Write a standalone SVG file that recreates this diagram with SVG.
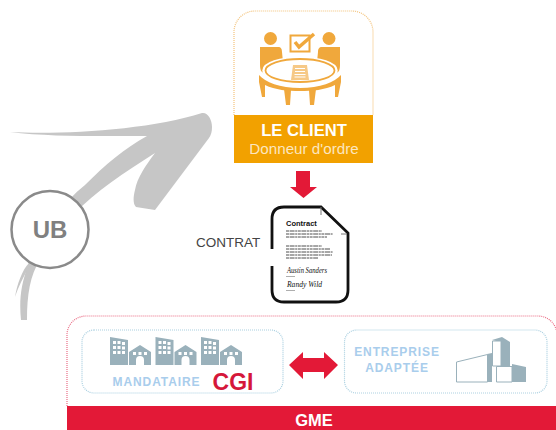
<svg xmlns="http://www.w3.org/2000/svg" width="556" height="430" viewBox="0 0 556 430">
<style>
text{font-family:"Liberation Sans",Arial,sans-serif}
.org{fill:#f0a83c}
.bld{fill:#9ab1bb}
.lbl{font-weight:700;font-size:12px;letter-spacing:.9px;fill:#a9cdec;text-anchor:middle}
.sub{fill:none;stroke:#a9cfe0;stroke-width:1.200;stroke-dasharray:1 1}
.ln{stroke:#222;stroke-width:.8;stroke-dasharray:3 .6 5 .6 2 .6}
.sig{font-family:"Liberation Serif",serif;font-style:italic;font-size:8px;fill:#111}
</style>
<defs>
<g id="tower"><path class="bld" d="M110 337L128 340V365H110Z"/><path fill="#fff" d="M113 341h3v3h-3zM117.500 341h3v3h-3zM122 342h3v3h-3zM113 346h3v3h-3zM117.500 346h3v3h-3zM122 346.500h3v3h-3zM113 351h3v3h-3zM117.500 351h3v3h-3zM122 351h3v3h-3z"/>
<path class="bld" d="M129 352L140 345L151 352V365H144V360a4 4 0 0 0-8 0V365H129Z"/><path fill="#fff" d="M133 352h3v3h-3zM138.500 352h3v3h-3zM144 352h3v3h-3z"/></g>
</defs>
<g id="brush">
<path fill="#c6c6c6" d="M10 132C60 135 150 130 202 113C208 112 212 120 212 127C212 132 211 135 209 138L155 210L136 207C133 204 133 198 135 190C137 178 146 165 155 153C125 172 95 192 75 213L40 260C30 275 27 295 27 320H21C19 300 21 285 28 265C40 235 60 205 85 185C105 165 125 148 147 136C100 136 50 137 10 132Z"/>
<path fill="#c6c6c6" d="M15 297C17 285 22 270 29 263L31 264C24 275 18 288 15 297Z"/>
</g>
<g id="ub">
<circle cx="50" cy="229.500" r="38.500" fill="#fff" stroke="#8a8a8a" stroke-width="2.500"/>
<text x="50" y="238" font-size="24" font-weight="700" fill="#808080" text-anchor="middle">UB</text>
</g>
<g id="client">
<path d="M234 115V32A21 21 0 0 1 255 11H352A21 21 0 0 1 373 32V115" fill="#fff" stroke="#f3c27a" stroke-width="1.200" stroke-dasharray="1 1"/>
<rect x="234" y="115" width="139" height="48" fill="#f2a100"/>
<g>
<circle class="org" cx="270.500" cy="38.500" r="6.500"/>
<circle class="org" cx="329" cy="38.500" r="6.500"/>
<path class="org" d="M260 47H278C281 47 282 49 282 52L283 62L266 72L273 75C275 77 272 79 269 78L261 71C260 68 260 66 260 64Z"/>
<path class="org" d="M340 47H322C319 47 318 49 318 52L317 62L334 72L327 75C325 77 328 79 331 78L339 71C340 68 340 66 340 64Z"/>
<ellipse cx="300" cy="70.500" rx="36" ry="12" fill="#fff" stroke="#fff" stroke-width="3.500"/>
<ellipse cx="300" cy="70.500" rx="34.500" ry="11.500" fill="#fff" stroke="#f0a83c" stroke-width="1.800"/>
<path class="org" d="M259 75C265 82 280 88 300 88C320 88 335 82 341 75L341 82L338 97H335L335 85C325 90 312 91 300 91C288 91 275 90 265 85L265 97H262L259 82Z"/>
<path class="org" d="M284 89L291 90L290 105H286ZM316 89L309 90L310 105H314Z"/>
<path fill="#f6c987" d="M293 65H307L309 80H291Z"/>
<path stroke="#fff" stroke-width="1" d="M295 68.500H305M295 71.500H305M294.500 74.500H305.500M294.500 77H305.500"/>
<rect x="290.500" y="35.500" width="19" height="16" fill="none" stroke="#f0a83c" stroke-width="2"/>
<path d="M295 42L299 47L314 34" fill="none" stroke="#f0a83c" stroke-width="3.500"/>
</g>
<text x="304" y="136" font-size="16.600" font-weight="700" fill="#fff" text-anchor="middle">LE CLIENT</text>
<text x="304" y="154" font-size="15.200" fill="#fce6bf" text-anchor="middle">Donneur d'ordre</text>
</g>
<g id="contrat">
<text x="196" y="247" font-size="13.500" fill="#444">CONTRAT</text>
<path d="M272 249V219Q272 207 284 207H321L348 233V290Q348 302 336 302H284Q272 302 272 290V266" fill="#fff" stroke="#111" stroke-width="2.800"/>
<path d="M321 207V215M341 234H347" stroke="#777" stroke-width="1" fill="none"/>
<text x="286" y="226" font-size="7.500" font-weight="700" fill="#111">Contract</text>
<path class="ln" d="M286 231H322M286 234H333M286 237H327M286 246H322M286 249H330M286 252H333M286 255H332M286 258H318"/>
<text class="sig" x="287" y="273" textLength="40" lengthAdjust="spacingAndGlyphs">Austin Sanders</text>
<text class="sig" x="287" y="287" textLength="35" lengthAdjust="spacingAndGlyphs">Randy Wild</text>
<path d="M286 276.500H295M286 290.500H295" stroke="#777" stroke-width=".6"/>
</g>
<g id="gme">
<path d="M67 406V335A19 19 0 0 1 86 316H538A19 19 0 0 1 557 335V406" fill="#fff" stroke="#ea6d85" stroke-width="1.200" stroke-dasharray="1 1"/>
<rect x="67" y="406" width="489" height="24" fill="#e31937"/>
<text x="314" y="426" font-size="16.500" font-weight="700" fill="#fff" text-anchor="middle">GME</text>
</g>
<g id="mandataire">
<rect class="sub" x="82" y="330" width="201" height="63" rx="12"/>
<use href="#tower"/><use href="#tower" x="45.500"/><use href="#tower" x="91"/>
<text class="lbl" x="156.500" y="386">MANDATAIRE</text>
<text x="233" y="390" font-size="23" font-weight="700" fill="#d5173a" text-anchor="middle">CGI</text>
</g>
<g id="entreprise">
<rect class="sub" x="344.500" y="330" width="202.500" height="63" rx="12"/>
<text class="lbl" x="397" y="356">ENTREPRISE</text>
<text class="lbl" x="397" y="372">ADAPTÉE</text>
<path class="bld" d="M487 354L492 353V382H487ZM501 340L510 342V382H501ZM492 340L502 337L510 342H501Z"/>
<path fill="#fff" stroke="#9ab1bb" d="M456.500 362L487.500 354.500V382H456.500ZM492.500 341H501V366H492.500Z"/>
<path class="bld" d="M512 364L526 367V382H512Z"/>
<path fill="#fff" stroke="#9ab1bb" d="M496.500 366.500H512V382H496.500Z"/>
</g>
<g id="connectors">
<path fill="#e31937" d="M296 171H310V187H317L303.500 198L290 187H296Z"/>
<path fill="#e31937" d="M289 365L303 352V358H324V352L338 365L324 379V372H303V379Z"/>
</g>
</svg>
